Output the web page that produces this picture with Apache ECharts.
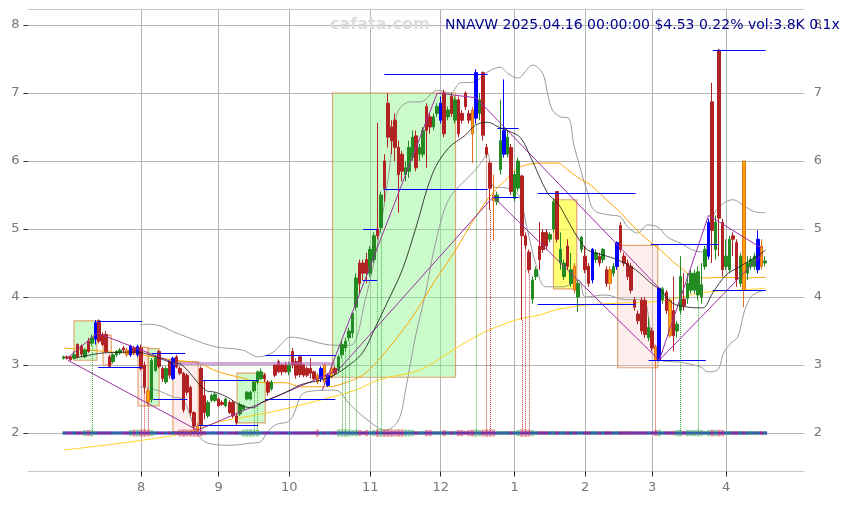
<!DOCTYPE html>
<html><head><meta charset="utf-8">
<script src="https://cdn.jsdelivr.net/npm/echarts@6/dist/echarts.min.js"></script>
<style>html,body{margin:0;padding:0;background:#fff}#c{width:844px;height:505px}</style>
</head><body><div id="c"></div>
<script>
// ---------- categories (trading days) ----------
const firstDay = '2024-07-01';
const lastDay = '2025-04-16';
const holidays = ['2024-07-04','2024-09-02','2024-11-28','2024-12-25','2025-01-01','2025-01-09','2025-01-20','2025-02-17'];
const padBefore = 10, padAfter = 11;

// ---------- price data [open, close, low, high] ----------
const ohlc = [
[3.10,3.12,3.08,3.14],[3.12,3.10,3.08,3.14],[3.12,3.08,3.06,3.14],[3.10,3.15,3.08,3.20],[3.30,3.12,3.10,3.32],
[3.28,3.16,3.12,3.30],[3.12,3.22,3.10,3.25],[3.35,3.20,3.18,3.40],[3.32,3.40,3.28,3.45],[3.38,3.62,3.30,3.66],
[3.65,3.35,3.32,3.67],[3.45,3.30,3.28,3.48],[3.45,3.20,3.18,3.50],[3.12,2.98,2.96,3.15],[3.05,3.15,3.02,3.17],
[3.15,3.20,3.12,3.22],[3.18,3.22,3.15,3.25],[3.25,3.22,3.18,3.28],[3.22,3.15,3.12,3.26],[3.15,3.28,3.12,3.30],
[3.25,3.18,3.15,3.28],[3.15,3.27,3.12,3.30],[3.25,2.95,2.92,3.30],[3.00,2.68,2.58,3.05],[2.62,2.45,2.40,2.65],
[2.49,3.07,2.45,3.10],[2.92,3.10,2.90,3.15],[3.20,2.98,2.95,3.22],[2.95,2.80,2.75,2.98],[2.75,2.95,2.72,2.98],
[3.05,2.85,2.80,3.08],[2.80,3.10,2.78,3.12],[3.12,2.97,2.95,3.15],[2.95,2.88,2.85,2.98],[2.88,2.34,2.30,2.90],
[2.85,2.60,2.55,2.88],[2.67,2.30,2.25,2.70],[2.30,2.10,2.05,2.32],[2.10,2.05,2.00,2.15],[2.95,2.12,2.02,2.98],
[2.55,2.30,2.20,2.78],[2.25,2.45,2.22,2.48],[2.48,2.55,2.45,2.58],[2.48,2.57,2.45,2.60],[2.50,2.40,2.38,2.52],
[2.45,2.42,2.40,2.48],[2.40,2.50,2.38,2.52],[2.45,2.30,2.28,2.48],[2.45,2.25,2.22,2.48],[2.25,2.15,2.12,2.28],
[2.28,2.42,2.25,2.45],[2.35,2.40,2.32,2.42],[2.50,2.60,2.48,2.62],[2.50,2.60,2.48,2.62],[2.62,2.75,2.60,2.78],
[2.75,2.90,2.72,2.92],[2.80,2.90,2.78,2.95],[2.85,2.80,2.75,2.88],[2.75,2.60,2.55,2.78],[2.65,2.75,2.62,2.78],
[3.00,2.85,2.82,3.02],[3.05,2.90,2.88,3.08],[3.00,2.90,2.85,3.02],[3.00,2.90,2.88,3.05],[2.90,3.00,2.85,3.05],
[3.20,3.00,2.95,3.25],[3.05,2.85,2.80,3.10],[3.12,2.86,2.82,3.15],[3.00,2.85,2.82,3.02],[2.95,2.85,2.82,2.98],
[2.95,2.88,2.80,3.10],[2.90,2.80,2.78,2.92],[2.85,2.75,2.72,2.88],[2.80,2.95,2.75,2.98],[3.00,2.75,2.70,3.02],
[2.70,2.85,2.68,2.88],[2.95,2.82,2.80,2.98],[2.95,2.88,2.85,2.98],[2.92,3.12,2.90,3.15],[3.15,3.30,3.10,3.35],
[3.25,3.35,3.20,3.40],[3.40,3.50,3.35,3.55],[3.47,3.76,3.40,3.78],[3.85,4.28,3.80,4.35],[4.50,4.20,4.05,4.55],
[4.50,4.35,4.25,4.55],[4.55,4.35,4.20,4.65],[4.35,4.70,4.30,4.75],[4.55,4.90,4.50,4.95],[5.00,4.90,4.85,6.56],
[5.02,5.50,4.95,5.55],[6.00,5.60,5.40,6.10],[6.85,6.35,6.20,7.00],[6.50,6.30,6.10,6.60],[6.60,6.20,6.00,6.70],
[6.20,5.80,5.24,6.30],[6.10,5.85,5.70,6.15],[5.80,5.90,5.70,6.00],[5.85,6.20,5.75,6.30],[6.05,6.35,6.00,6.45],
[6.37,5.90,5.85,6.45],[6.10,6.20,6.00,6.25],[6.10,6.45,6.05,6.50],[6.80,6.45,5.90,6.85],[6.65,6.50,6.40,6.70],
[6.50,6.65,6.45,6.70],[6.70,6.80,6.65,6.85],[6.60,6.85,6.55,6.95],[7.00,6.40,6.35,7.05],[6.65,6.75,6.60,6.80],
[6.95,6.70,6.65,7.00],[6.60,6.90,6.55,6.95],[6.90,6.40,6.35,6.95],[6.70,6.60,6.55,6.75],[7.00,6.80,6.75,7.02],
[6.70,6.60,6.55,6.75],[6.75,6.40,5.97,6.80],[6.63,7.30,6.55,7.35],[6.70,6.90,6.60,7.00],[7.30,6.38,6.30,7.32],
[6.20,6.10,6.05,6.25],[5.97,5.60,5.28,6.00],[5.50,5.42,4.83,5.80],[5.40,5.50,5.35,5.55],[5.87,6.30,5.80,6.90],
[6.10,6.45,6.05,7.20],[6.10,6.35,6.05,6.45],[6.20,5.55,5.50,6.25],[5.45,5.80,5.40,5.85],[5.60,6.00,5.55,6.05],
[5.78,4.90,3.66,5.80],[4.90,4.76,4.70,4.95],[4.66,4.40,4.35,4.70],[3.97,4.25,3.90,4.30],[4.30,4.40,4.25,4.45],
[4.75,4.55,4.40,5.10],[4.95,4.70,4.65,5.00],[4.95,4.75,4.70,5.00],[4.85,4.92,4.80,4.95],[5.00,5.40,4.95,5.45],
[5.55,4.85,4.80,5.55],[4.50,4.70,4.40,4.95],[4.30,4.50,4.25,4.55],[4.75,4.45,4.40,4.85],[4.20,4.40,4.15,4.65],
[4.45,4.10,4.05,4.50],[4.00,4.20,3.78,4.25],[4.70,4.88,4.65,4.90],[4.60,4.40,4.35,4.75],[4.45,4.20,4.15,4.50],
[4.25,4.70,4.20,4.72],[4.55,4.65,4.50,4.70],[4.60,4.50,4.45,4.65],[4.55,4.70,4.50,4.72],[4.40,4.20,4.15,4.45],
[4.40,4.20,4.10,4.45],[4.35,4.45,4.30,4.50],[4.45,4.80,4.40,4.82],[5.05,4.70,4.65,5.10],[4.60,4.50,4.45,4.65],
[4.50,4.30,4.25,4.55],[4.45,4.10,4.05,4.50],[3.95,3.85,3.80,4.00],[3.75,3.65,3.60,3.80],[3.95,3.50,3.45,4.00],
[3.95,3.45,3.40,4.00],[3.40,3.55,3.35,3.70],[3.50,3.25,3.20,3.55],[3.27,3.07,2.95,3.30],[3.07,4.13,3.05,4.15],
[3.96,4.12,3.90,4.15],[4.07,3.80,3.75,4.10],[3.95,3.43,3.40,3.98],[3.80,3.43,3.20,4.30],[3.50,3.60,3.40,3.65],
[3.80,4.30,3.75,4.60],[3.97,3.87,3.80,4.35],[3.98,4.20,3.90,4.35],[4.10,4.35,4.05,4.40],[4.10,4.35,4.05,4.40],
[4.03,4.37,3.95,4.45],[4.00,4.18,3.90,4.50],[4.45,4.70,4.40,4.75],[4.60,5.10,4.55,5.15],[6.87,4.98,4.50,7.15],
[4.70,5.10,4.55,5.20],[7.63,5.16,4.60,7.65],[5.10,4.40,4.30,5.15],[4.45,4.60,4.40,4.85],[4.40,4.85,4.35,4.90],
[4.90,4.85,4.60,4.95],[4.80,4.25,4.15,4.85],[4.20,4.60,4.15,4.65],[6.00,4.10,3.85,6.00],[4.35,4.50,4.25,4.60],
[4.45,4.55,4.40,4.60],[4.45,4.60,4.40,4.65],[4.40,4.85,4.35,4.98],[4.75,4.45,4.40,4.85],[4.50,4.53,4.45,4.60]
];
const blueCandles = [9,19,21,31,73,75,107,117,125,150,157,169,183,197];
const orangeCandles = [18,24,38,72,74,76,116,122,145,155,168,172,193,198];

// volume marks (drawn as small bars straddling the 2.0 base line)
const volume = [
0.04,0.04,0.04,0.05,0.05,0.05,0.09,0.09,0.10,0.06, 0.05,0.04,0.04,0.05,0.04,0.04,0.04,0.04,0.05,0.09,
0.10,0.10,0.11,0.11,0.10,0.09,0.05,0.04,0.04,0.04, 0.04,0.05,0.05,0.10,0.11,0.10,0.10,0.11,0.11,0.10,
0.06,0.04,0.04,0.04,0.04,0.04,0.04,0.04,0.04,0.05, 0.06,0.10,0.11,0.11,0.10,0.10,0.05,0.04,0.04,0.04,
0.04,0.04,0.04,0.04,0.04,0.04,0.04,0.04,0.04,0.04, 0.04,0.05,0.10,0.05,0.04,0.05,0.04,0.05,0.10,0.11,
0.11,0.10,0.09,0.10,0.09,0.06,0.09,0.06,0.09,0.11, 0.11,0.11,0.11,0.11,0.10,0.11,0.11,0.10,0.10,0.09,
0.06,0.05,0.06,0.09,0.09,0.06,0.05,0.06,0.09,0.06, 0.06,0.06,0.09,0.09,0.06,0.09,0.10,0.11,0.09,0.10,
0.11,0.11,0.10,0.06,0.06,0.06,0.06,0.06,0.06,0.09, 0.11,0.11,0.10,0.09,0.06,0.06,0.06,0.06,0.06,0.06,
0.06,0.05,0.06,0.06,0.06,0.05,0.05,0.05,0.05,0.06, 0.06,0.06,0.05,0.05,0.06,0.06,0.05,0.05,0.06,0.05,
0.06,0.05,0.05,0.05,0.05,0.05,0.04,0.05,0.09,0.10, 0.05,0.05,0.06,0.06,0.09,0.10,0.06,0.09,0.09,0.09,
0.10,0.09,0.06,0.09,0.10,0.09,0.10,0.09,0.06,0.06, 0.06,0.06,0.06,0.06,0.06,0.06,0.06,0.06,0.06,0.06
];
const baseLevel = 2;

// indicator lines: [dataIndex, value]
const maFast = [[3.2,3.10],[11.8,3.18],[20.3,3.19],[24.5,3.15],[30.2,3.04],[33.6,3.00],[40.2,2.63],[43,2.60],[46.4,2.53],[50.1,2.41],[53.5,2.37],[56.6,2.46],[60,2.53],[64.3,2.63],[67.2,2.71],[75.1,2.81],[80,2.96],[84.8,3.18],[88.5,3.56],[92.2,3.96],[96.1,4.40],[99.8,4.99],[104.7,5.82],[109.2,6.19],[114,6.38],[116.9,6.53],[120.3,6.57],[123.4,6.50],[126.8,6.43],[129.7,6.34],[132.5,6.06],[137.3,5.53],[140.2,5.38],[143,5.13],[145.8,4.88],[148.7,4.69],[152.9,4.62],[157.5,4.54],[162.3,4.40],[167.2,4.18],[169.4,4.10],[172.8,3.91],[177.4,3.85],[181.3,3.84],[184.2,4.06],[187.9,4.32],[191.6,4.44],[196.4,4.59],[199.2,4.69]];
const maMid = [[0,3.25],[11.8,3.20],[21.7,3.15],[31.7,3.07],[37.9,3.03],[43.9,2.90],[50.7,2.81],[56.4,2.74],[62.9,2.74],[67.2,2.68],[75.1,2.68],[80,2.74],[84.8,2.85],[89.3,3.07],[94.1,3.37],[99,3.71],[105.5,4.25],[111.2,4.69],[116.9,5.18],[121.7,5.53],[125.4,5.72],[128.2,5.87],[131.1,5.94],[135.4,5.97],[140.2,5.97],[143,5.87],[145.8,5.76],[149.5,5.65],[153.2,5.47],[158,5.24],[161.8,5.03],[165.7,4.84],[169.4,4.69],[173.1,4.51],[175.9,4.40],[178.8,4.29],[182.8,4.28],[187.3,4.29],[192.1,4.28],[199.2,4.29]];
const maSlow = [[0,1.75],[31.7,1.97],[43.9,2.16],[57.2,2.29],[67.2,2.41],[82.8,2.63],[89.3,2.78],[101.2,2.93],[109.2,3.18],[118.9,3.47],[128.2,3.66],[135.4,3.74],[139.6,3.81],[148.1,3.88],[157.5,3.91],[169.4,3.94],[182.2,4.07],[191.6,4.10],[199.2,4.13]];
const bandUpper = [[21.7,3.59],[24.5,3.60],[28.3,3.56],[31.1,3.49],[35.1,3.41],[39.6,3.32],[43.9,3.26],[50.7,3.22],[55.3,3.12],[59.2,3.18],[62,3.32],[64.3,3.41],[77.1,3.29],[81.4,3.29],[85.6,3.96],[89.3,4.84],[92.2,5.79],[94.7,6.71],[98.4,6.87],[101.3,6.87],[106.1,7.04],[109.8,7.00],[112.6,7.15],[116.3,7.16],[120.3,7.31],[123.9,7.38],[126,7.29],[128.8,7.22],[133.1,7.41],[135.9,7.29],[137.3,7.00],[138.7,6.75],[141,6.65],[143.3,6.63],[144.7,6.26],[146.7,5.87],[148.7,5.53],[150.4,5.28],[154.4,5.21],[158,5.18],[160,5.03],[162.9,4.94],[165.7,5.06],[168.6,5.03],[171.4,4.88],[175.1,4.79],[178.5,4.69],[181.6,4.66],[183.6,5.10],[185.9,5.32],[189.9,5.43],[193.6,5.32],[196.4,5.25],[199.2,5.24]];
const bandLower = [[21.7,2.68],[26.5,2.63],[31.1,2.53],[33.9,2.49],[39.3,1.90],[47.3,1.82],[50.1,1.83],[52.9,1.85],[55.8,1.87],[57.8,2.01],[60.1,2.12],[64.3,2.19],[68.6,2.60],[77.1,2.63],[81.4,2.41],[87,2.16],[91.3,2.04],[95,2.19],[97,2.63],[99.8,3.41],[102.7,4.06],[105.5,4.79],[109.2,5.43],[114,5.72],[116.9,5.87],[118.9,6.01],[120.3,6.12],[122,5.62],[126,5.60],[129.1,5.50],[131.6,4.99],[133.9,4.50],[136.8,4.15],[141.6,4.15],[146.1,4.25],[148.1,4.00],[153.8,4.03],[159.5,3.96],[164.3,3.96],[166.6,3.51],[169.4,3.07],[175.1,3.04],[180.8,2.97],[182.8,2.90],[185.6,2.93],[187.3,3.18],[189.3,3.32],[191.3,3.41],[193,3.76],[195,4.00],[197,4.07],[199.2,4.10]];

// trend lines [i0, v0, i1, v1]
const purpleSegs = [[1,3.10,9.5,3.47],[9.5,3.47,31,3.04],[1.2,3.07,38,2.04],[38,2.04,78,2.93],[78,2.93,122,5.48],[73.4,2.63,106,7.0],[106,7.0,117,6.93],[117,6.93,169,4.13],[122,5.47,169,3.07],[169,3.07,183,5.2],[183,5.2,198,4.72],[169,3.07,198,4.62]];
const purpleBand = [[31,3.03,77,3.03]];
// level lines [i0, i1, value]
const blueLevels = [[9.5,22.3,3.65],[9.8,22.3,2.97],[25.1,34.5,3.18],[25.4,35.1,2.50],[39.3,55.2,2.78],[38.2,55.2,2.12],[57.2,77.1,3.15],[57.2,77.1,2.50],[85,89,5.00],[84.8,89,4.25],[90.7,120.3,5.59],[91,120.3,7.28],[123.1,129.1,6.48],[122,129.1,5.46],[134.5,162.3,5.53],[134.5,162.3,3.90],[166.6,185.9,4.78],[166,182.2,3.07],[184.2,199.2,7.63],[184.2,199.2,4.10]];
// boxes [i0, i1, low, high]
const greenBoxes = [[2.95,9.45,3.07,3.65],[24,27.1,2.40,3.24],[49.2,57.2,2.15,2.88],[76.3,111.2,2.82,7.0]];
const pinkBoxes = [[11.2,13.5,3.00,3.44],[21.1,24,2.40,3.26],[31,38.2,2.02,3.05],[157.2,168.6,2.96,4.76]];
const yellowBoxes = [[139,145.6,4.12,5.43]];
// signal days (dotted drop lines)
const greenSignals = [8,54,55,79,80,81,83,89,90,117,175,180];
const redSignals = [23,24,37,38,120,121,130,131,132,168];

const yMin = 1.434, yMax = 8.228;
const titleText = 'NNAVW 2025.04.16 00:00:00 $4.53 0.22% vol:3.8K 0.1x';

// ---------- build ----------
function fmt(d){return d.getFullYear()+'-'+String(d.getMonth()+1).padStart(2,'0')+'-'+String(d.getDate()).padStart(2,'0');}
const dates = [];
for (let d = new Date(firstDay+'T12:00:00'); fmt(d) <= lastDay; d.setDate(d.getDate()+1)) {
  const wd = d.getDay(); const s = fmt(d);
  if (wd === 0 || wd === 6 || holidays.includes(s)) continue;
  dates.push(s);
}
const categories = [];
for (let k=0;k<padBefore;k++) categories.push('pb'+k);
dates.forEach(s=>categories.push(s));
for (let k=0;k<padAfter;k++) categories.push('pa'+k);
const monthStarts = new Set();
for (let i=1;i<dates.length;i++) if (dates[i].slice(5,7)!==dates[i-1].slice(5,7)) monthStarts.add(i+padBefore);
const isMonthStart = (idx)=>monthStarts.has(idx);

const GREEN='#228b22', RED='#b22222';
const candleData = ohlc.map((d,i)=>{
  const item = {value:[i+padBefore, d[0], d[1], d[2], d[3]]};
  if (blueCandles.includes(i)) item.itemStyle = {color:'#0000ff',color0:'#0000ff',borderColor:'#0000ff',borderColor0:'#0000ff'};
  if (orangeCandles.includes(i)) item.itemStyle = {color:'#ffa500',color0:'#ffa500',borderColor:'#e07020',borderColor0:'#e07020'};
  return item;
});
const volBaseData = [], volData = [];
ohlc.forEach((d,i)=>{
  volBaseData.push([i+padBefore, baseLevel - volume[i]/2]);
  volData.push({value:[i+padBefore, volume[i]], itemStyle:{color: d[1]>=d[0] ? 'rgba(60,170,60,0.55)' : 'rgba(210,60,60,0.55)'}});
});

function lineS(data,color,width,z){
  return {type:'line',xAxisIndex:1,yAxisIndex:0,data,symbol:'none',smooth:0.35,silent:true,z,
    lineStyle:{color,width},animation:false};
}
function segLines(segs,color,width,type,z,opacity){
  return {type:'line',xAxisIndex:1,yAxisIndex:0,data:[],silent:true,z,animation:false,
    markLine:{silent:true,symbol:['none','none'],label:{show:false},animation:false,
      lineStyle:{color,width,type,opacity:opacity==null?1:opacity},
      emphasis:{disabled:true},
      data:segs.map(s=>[{coord:[s[0],s[1]]},{coord:[s[2],s[3]]}])}};
}
function boxes(list,fill,z){
  return {type:'line',xAxisIndex:1,yAxisIndex:0,data:[],silent:true,z,animation:false,
    markArea:{silent:true,animation:false,label:{show:false},
      itemStyle:{color:fill,borderColor:'rgba(222,150,90,0.85)',borderWidth:1.2},
      data:list.map(b=>[{coord:[b[0],b[3]]},{coord:[b[1],b[2]]}])}};
}

const option = {
  animation:false,
  textStyle:{fontFamily:'DejaVu Sans'},
  title:[
    {text:'cafata.com',left:330,top:17,padding:0,textStyle:{fontSize:16,fontWeight:'bold',color:'#dcdcdc',fontFamily:'DejaVu Sans'}},
    {text:titleText,left:445,top:18,padding:0,textStyle:{fontSize:14,fontWeight:'normal',color:'#00008b',fontFamily:'DejaVu Sans'}}
  ],
  grid:{left:28.4,top:9.5,width:775.3,height:462,containLabel:false},
  xAxis:[
    {type:'category',data:categories,boundaryGap:false,
      axisLine:{show:true,onZero:false,lineStyle:{color:'#c8c8c8'}},
      axisTick:{show:true,interval:isMonthStart,length:5,lineStyle:{color:'#222'}},
      axisLabel:{interval:isMonthStart,formatter:(v)=>String(parseInt(v.slice(5,7),10)),color:'#777',fontSize:13,margin:10},
      splitLine:{show:true,interval:isMonthStart,lineStyle:{color:'#b4b4b4',width:1}}},
    {type:'value',min:-padBefore,max:dates.length-1+padAfter,position:'top',
      axisLine:{show:true,onZero:false,lineStyle:{color:'#c8c8c8',type:'dotted'}},
      axisTick:{show:false},axisLabel:{show:false},splitLine:{show:false}}
  ],
  yAxis:[
    {type:'value',min:yMin,max:yMax,position:'left',
      axisLine:{show:false,onZero:false},
      axisTick:{show:true,length:5,lineStyle:{color:'#333'}},
      axisLabel:{color:'#777',fontSize:13,margin:9,showMinLabel:false,showMaxLabel:false},
      splitLine:{show:true,lineStyle:{color:'#b4b4b4',width:1}}},
    {type:'value',min:yMin,max:yMax,position:'right',
      axisLine:{show:false,onZero:false},axisTick:{show:false},
      axisLabel:{color:'#777',fontSize:13,margin:10,showMinLabel:false,showMaxLabel:false},
      splitLine:{show:false}}
  ],
  series:[
    boxes(greenBoxes,'rgba(140,245,140,0.45)',1),
    boxes(pinkBoxes,'rgba(248,190,190,0.28)',1),
    boxes(yellowBoxes,'rgba(255,255,60,0.7)',1),
    {type:'line',xAxisIndex:1,yAxisIndex:0,data:[],silent:true,z:2,animation:false,
      markLine:{silent:true,symbol:['none','none'],label:{show:false},lineStyle:{color:'#3cb43c',width:1,type:'dotted'},
        data:greenSignals.map(i=>[{coord:[i,ohlc[i][2]]},{coord:[i,baseLevel]}])}},
    {type:'line',xAxisIndex:1,yAxisIndex:0,data:[],silent:true,z:2,animation:false,
      markLine:{silent:true,symbol:['none','none'],label:{show:false},lineStyle:{color:'#d04040',width:1,type:'dotted'},
        data:redSignals.map(i=>[{coord:[i,ohlc[i][2]]},{coord:[i,baseLevel]}])}},
    lineS(bandUpper,'#9a9a9a',1,3),
    lineS(bandLower,'#9a9a9a',1,3),
    lineS(maSlow,'#ffd21f',1,3),
    lineS(maMid,'#ffa500',1,3),
    segLines(purpleBand,'#b070c0',3,'solid',3,0.6),
    segLines(purpleSegs,'#9a2ea0',1,'solid',5,1),
    segLines(blueLevels.map(b=>[b[0],b[2],b[1],b[2]]),'#0000ff',1,'solid',5,1),
    {type:'candlestick',xAxisIndex:0,yAxisIndex:0,data:candleData,barWidth:3,z:4,
      encode:{x:0,y:[1,2,3,4]},
      itemStyle:{color:GREEN,color0:RED,borderColor:GREEN,borderColor0:RED,borderWidth:1}},
    lineS(maFast,'#111',0.8,6),
    {type:'line',xAxisIndex:1,yAxisIndex:0,data:[[-0.3,baseLevel],[dates.length-1+0.6,baseLevel]],symbol:'none',silent:true,z:6,
      lineStyle:{color:'#2a2aff',width:3}},
    {type:'bar',xAxisIndex:0,yAxisIndex:0,stack:'vol',data:volBaseData,barWidth:3,silent:true,z:7,
      itemStyle:{color:'rgba(0,0,0,0)'}},
    {type:'bar',xAxisIndex:0,yAxisIndex:0,stack:'vol',data:volData,barWidth:3,silent:true,z:7}
  ]
};
const chart = echarts.init(document.getElementById('c'),null,{renderer:'canvas'});
chart.setOption(option);
</script>
</body></html>
